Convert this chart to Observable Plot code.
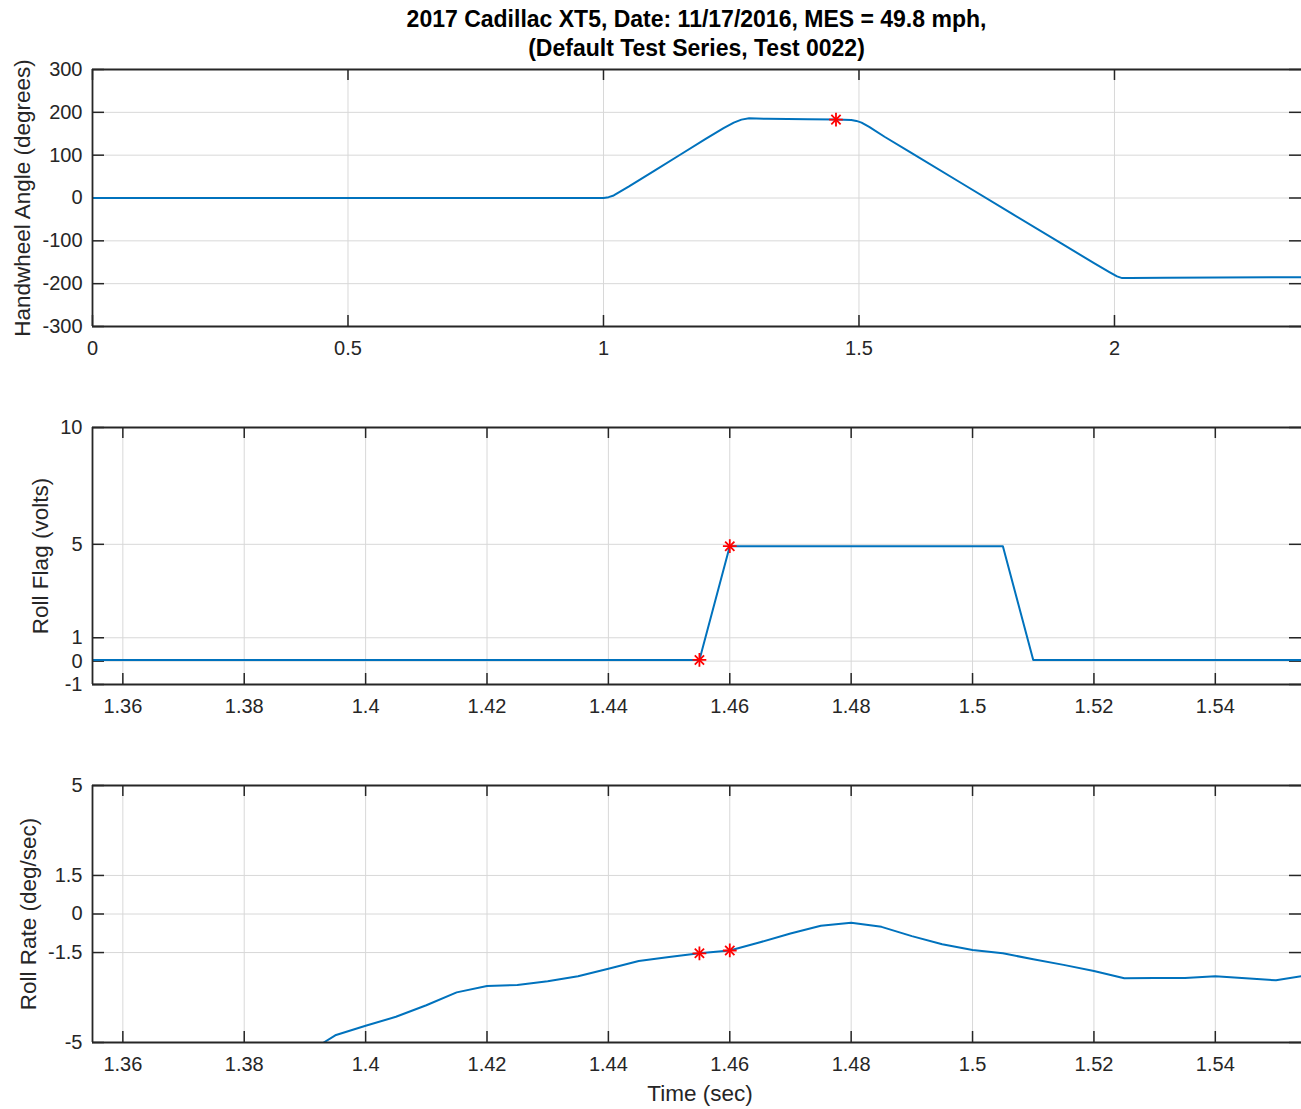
<!DOCTYPE html>
<html>
<head>
<meta charset="utf-8">
<script src="https://cdn.jsdelivr.net/npm/d3@7"></script>
<script src="https://cdn.jsdelivr.net/npm/@observablehq/plot@0.6"></script>
<style>
  html, body { margin: 0; padding: 0; background: #fff; }
  body { width: 1301px; height: 1109px; position: relative; overflow: hidden; font-family: 'Liberation Sans', Arial, Helvetica, sans-serif; }
  #title { position: absolute; left: 92px; width: 1209px; top: 5px; text-align: center; font-weight: bold; font-size: 23px; line-height: 29px; color: #000; }
  .panel { position: absolute; left: 0; }
</style>
</head>
<body>
<div id="title">2017 Cadillac XT5, Date: 11/17/2016, MES = 49.8 mph,<br>(Default Test Series, Test 0022)</div>
<div id="p1" class="panel"></div>
<div id="p2" class="panel"></div>
<div id="p3" class="panel"></div>
<script>
// ---------- Data ----------
const hwTime = [0, 0.5, 0.9, 1.0, 1.01, 1.02, 1.03, 1.05, 1.1, 1.15, 1.2, 1.235, 1.255, 1.27, 1.285, 1.32, 1.4, 1.455, 1.485, 1.495, 1.505, 1.52, 1.55, 1.6, 1.7, 1.8, 1.9, 1.96, 1.99, 2.005, 2.015, 2.03, 2.1, 2.366];
const hwAngle = [0, 0, 0, 0, 2, 6, 13, 27, 64, 101, 138, 163, 176, 183, 186, 185, 184, 183, 182, 180, 176, 166, 143, 107, 35, -37, -109, -152, -173, -183, -187, -187, -186, -185];
const hwMarkTime = [1.455];
const hwMarkAngle = [183];

const rfTime = [1.355, 1.455, 1.46, 1.505, 1.51, 1.5542];
const rfVolts = [0.05, 0.05, 4.92, 4.92, 0.05, 0.05];
const rfMarkTime = [1.455, 1.46];
const rfMarkVolts = [0.05, 4.92];

const rrTime = [1.3931, 1.395, 1.4, 1.405, 1.41, 1.415, 1.42, 1.425, 1.43, 1.435, 1.44, 1.445, 1.45, 1.455, 1.46, 1.465, 1.47, 1.475, 1.48, 1.485, 1.49, 1.495, 1.5, 1.505, 1.51, 1.515, 1.52, 1.525, 1.53, 1.535, 1.54, 1.545, 1.55, 1.5542];
const rrRate = [-5.0, -4.72, -4.35, -4.0, -3.55, -3.05, -2.8, -2.76, -2.62, -2.42, -2.13, -1.83, -1.67, -1.53, -1.42, -1.1, -0.76, -0.46, -0.34, -0.5, -0.86, -1.18, -1.4, -1.53, -1.76, -1.98, -2.22, -2.5, -2.49, -2.49, -2.42, -2.5, -2.58, -2.42];
const rrMarkTime = [1.455, 1.46];
const rrMarkRate = [-1.53, -1.42];

const xTicksTop = [0, 0.5, 1, 1.5, 2];
const xTicksZoom = [1.36, 1.38, 1.4, 1.42, 1.44, 1.46, 1.48, 1.5, 1.52, 1.54];
const yTicksHW = [-300, -200, -100, 0, 100, 200, 300];
const yTicksRF = [-1, 0, 1, 5, 10];
const yTicksRR = [-5, -1.5, 0, 1.5, 5];

const titles = {
  hw: "Handwheel Angle (degrees)",
  rf: "Roll Flag (volts)",
  rr: "Roll Rate (deg/sec)",
  x: "Time (sec)"
};

// ---------- Layout ----------
const W = 1301, ML = 92, MR = 0, MT = 10, MB = 66, PH = 257;
const PW = W - ML - MR;
const BLUE = "#0072BD", BOX = "#262626", GRID = "#d8d8d8";

function panel({el, top, xDomain, yDomain, xTicks, yTicks, times, values, mTimes, mValues, label, labelDx, xLabel}) {
  const line = times.map((t, i) => ({t, v: values[i]}));
  const marks = mTimes.map((t, i) => ({t, v: mValues[i]}));
  const fmt = d => String(d);
  const m = [
    Plot.ruleX(xTicks, {x: d => d, stroke: GRID, strokeWidth: 1}),
    Plot.ruleY(yTicks, {y: d => d, stroke: GRID, strokeWidth: 1}),
    // inner ticks (MATLAB style), both sides
    Plot.tickX(xTicks, {x: d => d, insetTop: PH - 11, stroke: BOX, strokeWidth: 1.5}),
    Plot.tickX(xTicks, {x: d => d, insetBottom: PH - 11, stroke: BOX, strokeWidth: 1.5}),
    Plot.tickY(yTicks, {y: d => d, insetRight: PW - 12, stroke: BOX, strokeWidth: 1.5}),
    Plot.tickY(yTicks, {y: d => d, insetLeft: PW - 12, stroke: BOX, strokeWidth: 1.5}),
    Plot.line(line, {x: "t", y: "v", stroke: BLUE, strokeWidth: 2, clip: true}),
    Plot.dot(marks, {x: "t", y: "v", symbol: "plus", r: 4.5, stroke: "#ff0000", strokeWidth: 1.8}),
    Plot.dot(marks, {x: "t", y: "v", symbol: "times", r: 4.3, stroke: "#ff0000", strokeWidth: 1.8}),
    // box: left, top, bottom
    Plot.ruleX([xDomain[0]], {stroke: BOX, strokeWidth: 1.8}),
    Plot.ruleY([yDomain[0], yDomain[1]], {stroke: BOX, strokeWidth: 1.8}),
    Plot.axisX({ticks: xTicks, tickSize: 0, tickPadding: 14, tickFormat: fmt, fontSize: 20, label: null, fill: "#262626"}),
    Plot.axisY({ticks: yTicks, tickSize: 0, tickPadding: 10, tickFormat: fmt, fontSize: 20, label: null, fill: "#262626"}),
    Plot.text([label], {frameAnchor: "left", textAnchor: "middle", lineAnchor: "middle", rotate: -90, dx: labelDx, fontSize: 22.5, fill: "#262626", text: d => d})
  ];
  if (xLabel) m.push(Plot.text([xLabel], {frameAnchor: "bottom", lineAnchor: "middle", textAnchor: "middle", dx: 3, dy: 51, fontSize: 22.5, fill: "#262626", text: d => d}));
  const svg = Plot.plot({
    width: W, height: PH + MT + MB,
    marginLeft: ML, marginRight: MR, marginTop: MT, marginBottom: MB,
    style: {fontFamily: "'Liberation Sans', Arial, Helvetica, sans-serif", fontSize: "20px", background: "transparent", overflow: "visible"},
    x: {domain: xDomain, type: "linear"},
    y: {domain: yDomain, type: "linear"},
    marks: m
  });
  const div = document.getElementById(el);
  div.style.top = (top - MT) + "px";
  div.appendChild(svg);
}

panel({el: "p1", top: 69, xDomain: [0, 2.366], yDomain: [-300, 300], xTicks: xTicksTop, yTicks: yTicksHW,
  times: hwTime, values: hwAngle, mTimes: hwMarkTime, mValues: hwMarkAngle, label: titles.hw, labelDx: -70});
panel({el: "p2", top: 427, xDomain: [1.355, 1.5542], yDomain: [-1, 10], xTicks: xTicksZoom, yTicks: yTicksRF,
  times: rfTime, values: rfVolts, mTimes: rfMarkTime, mValues: rfMarkVolts, label: titles.rf, labelDx: -52});
panel({el: "p3", top: 785, xDomain: [1.355, 1.5542], yDomain: [-5, 5], xTicks: xTicksZoom, yTicks: yTicksRR,
  times: rrTime, values: rrRate, mTimes: rrMarkTime, mValues: rrMarkRate, label: titles.rr, labelDx: -64, xLabel: titles.x});
</script>
</body>
</html>
